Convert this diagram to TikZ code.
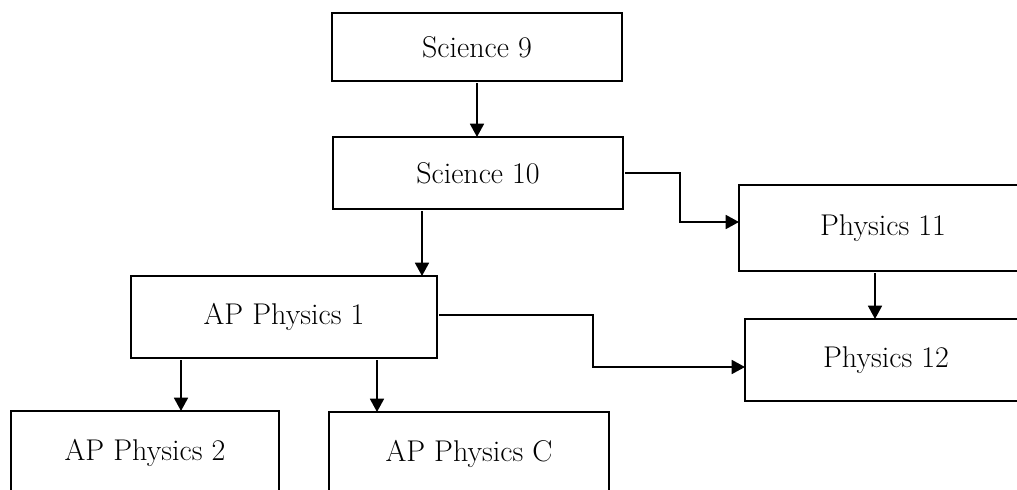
\documentclass[tikz,border=0pt]{standalone}
\usepackage{tikz}
\usetikzlibrary{arrows.meta,positioning}

\begin{document}
\begin{tikzpicture}[x=0.75pt,y=-0.75pt,
  course/.style={draw,line width=1.3pt,inner sep=0pt,outer sep=0pt,
    font=\fontsize{22.5}{27}\selectfont},
  link/.style={line width=1.3pt,shorten <=1.5pt,
    -{Triangle[length=10pt,width=10.5pt]}}]
  % page frame (right and bottom boxes run off the edge)
  \useasboundingbox (0,0) rectangle (1017,489);
  \clip (0,0) rectangle (1017,489);
  % Courses
  \node[course,minimum width=217.5pt,minimum height=51pt] (sci9) at (477,47) {Science 9};
  \node[course,minimum width=217.5pt,minimum height=54pt] (sci10) at (478,173) {Science 10};
  \node[course,minimum width=229.5pt,minimum height=61.5pt] (ap1) at (284,317) {AP Physics 1};
  \node[course,minimum width=216pt,minimum height=64.5pt] (phys11) at (883,228) {Physics 11};
  \node[course,minimum width=211.5pt,minimum height=61.5pt] (phys12) at (886,360) {Physics 12};
  \node[course,minimum width=201pt,minimum height=62.25pt] (ap2) at (145,452.5) {AP Physics 2};
  \node[course,minimum width=210pt,minimum height=62.25pt] (apc) at (469,453.5) {AP Physics C};
  % Arrows
  \draw[link] (sci9.south) -- (sci9.south |- sci10.north);
  \draw[link] ([xshift=-42pt]sci10.south) -- ([xshift=-42pt]sci10.south |- ap1.north);
  \draw[link] (sci10.east) -- ++(57,0) |- ([yshift=4.5pt]phys11.west);
  \draw[link] ([xshift=-6pt]phys11.south) -- ([xshift=-6pt]phys11.south |- phys12.north);
  \draw[link] ([yshift=1.5pt]ap1.east) -- ++(156,0) |- ([yshift=-5.25pt]phys12.west);
  \draw[link] ([xshift=-77.25pt]ap1.south) -- ([xshift=-77.25pt]ap1.south |- ap2.north);
  \draw[link] ([xshift=69.75pt]ap1.south) -- ([xshift=69.75pt]ap1.south |- apc.north);
\end{tikzpicture}
\end{document}
